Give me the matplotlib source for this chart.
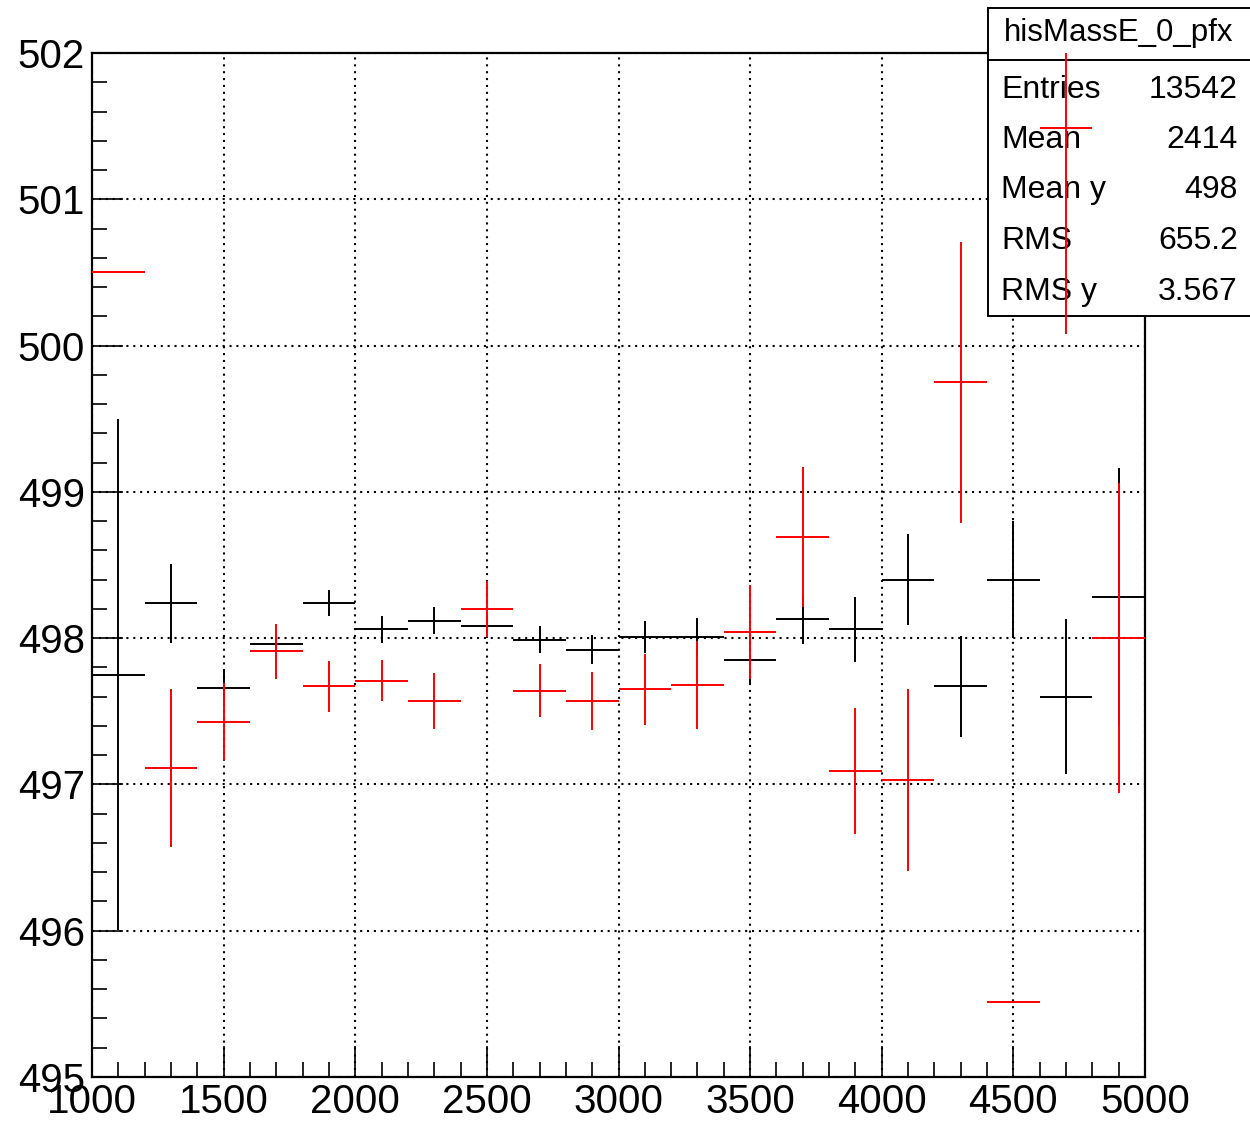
import matplotlib
matplotlib.use('Agg')
import matplotlib.pyplot as plt
from matplotlib.patches import Rectangle
from matplotlib.lines import Line2D
from matplotlib.ticker import MultipleLocator

plt.rcParams['font.family'] = ['Liberation Sans', 'DejaVu Sans']

# ---- data ----
bin_centers = [1100, 1300, 1500, 1700, 1900, 2100, 2300, 2500, 2700, 2900,
               3100, 3300, 3500, 3700, 3900, 4100, 4300, 4500, 4700, 4900]
bin_half_width = 100

black_y = [497.75, 498.24, 497.66, 497.96, 498.24, 498.06, 498.12, 498.08, 497.99, 497.92,
           498.01, 498.005, 497.85, 498.13, 498.06, 498.40, 497.67, 498.40, 497.60, 498.28]
black_err = [1.745, 0.27, 0.13, 0.04, 0.09, 0.09, 0.09, 0.08, 0.09, 0.10,
             0.11, 0.13, 0.17, 0.17, 0.22, 0.31, 0.345, 0.40, 0.53, 0.88]

red_y = [500.50, 497.11, 497.43, 497.91, 497.67, 497.71, 497.57, 498.20, 497.64, 497.57,
         497.65, 497.68, 498.04, 498.69, 497.09, 497.03, 499.75, 495.51, 501.49, 498.00]
red_err = [0.0, 0.54, 0.26, 0.19, 0.175, 0.14, 0.19, 0.19, 0.18, 0.20,
           0.245, 0.30, 0.32, 0.48, 0.43, 0.62, 0.96, 0.0, 1.41, 1.06]

stats_title = "hisMassE_0_pfx"
stats_labels = ["Entries", "Mean", "Mean y", "RMS", "RMS y"]
stats_values = ["13542", "2414", "498", "655.2", "3.567"]

x_ticks = [1000, 1500, 2000, 2500, 3000, 3500, 4000, 4500, 5000]
y_ticks = [495, 496, 497, 498, 499, 500, 501, 502]

# ---- figure ----
W, H = 1250, 1126
fig = plt.figure(figsize=(W / 100, H / 100), dpi=100)
ax = fig.add_axes([92 / W, 1 - 1077 / H, (1145 - 92) / W, (1077 - 53) / H])

ax.set_xlim(1000, 5000)
ax.set_ylim(495, 502)
ax.set_xticks(x_ticks)
ax.set_yticks(y_ticks)
ax.xaxis.set_minor_locator(MultipleLocator(100))
ax.yaxis.set_minor_locator(MultipleLocator(0.2))
ax.tick_params(which='major', direction='in', length=22, width=1.2, labelsize=29,
               top=False, right=False)
ax.tick_params(which='minor', direction='in', length=11, width=1.2,
               top=False, right=False)
ax.tick_params(axis='y', which='major', pad=5)
ax.tick_params(axis='x', which='major', pad=4)
for s in ax.spines.values():
    s.set_linewidth(1.6)
ax.grid(True, which='major', color='black', linestyle=(0, (1, 2.3)), linewidth=1.5)
ax.set_axisbelow(True)

ax.errorbar(bin_centers, black_y, xerr=bin_half_width, yerr=black_err, fmt='none',
            ecolor='black', elinewidth=1.4, capsize=0, zorder=3)

# stats box (drawn between black and red series)
box = Rectangle((988 / W, 1 - 316 / H), (W + 5 - 988) / W, (316 - 8) / H,
                transform=fig.transFigure, facecolor='white', edgecolor='black',
                linewidth=1.4, clip_on=False, zorder=4)
ax.add_artist(box)
sep = Line2D([988 / W, 1.0], [1 - 60 / H, 1 - 60 / H], transform=fig.transFigure,
             color='black', linewidth=1.4, clip_on=False, zorder=4.1)
ax.add_artist(sep)
ax.text(1119 / W, 1 - 33 / H, stats_title, transform=fig.transFigure, ha='center',
        va='center', fontsize=22.5, zorder=4.2, clip_on=False)
row_y = [90, 140, 190, 241, 292]
for lab, val, yy in zip(stats_labels, stats_values, row_y):
    ax.text(1001 / W, 1 - yy / H, lab, transform=fig.transFigure, ha='left',
            va='center', fontsize=23, zorder=4.2, clip_on=False)
    ax.text(1238 / W, 1 - yy / H, val, transform=fig.transFigure, ha='right',
            va='center', fontsize=23, zorder=4.2, clip_on=False)

ax.errorbar(bin_centers, red_y, xerr=bin_half_width, yerr=red_err, fmt='none',
            ecolor='red', elinewidth=1.4, capsize=0, zorder=5)

fig.savefig('out.png', dpi=100)
